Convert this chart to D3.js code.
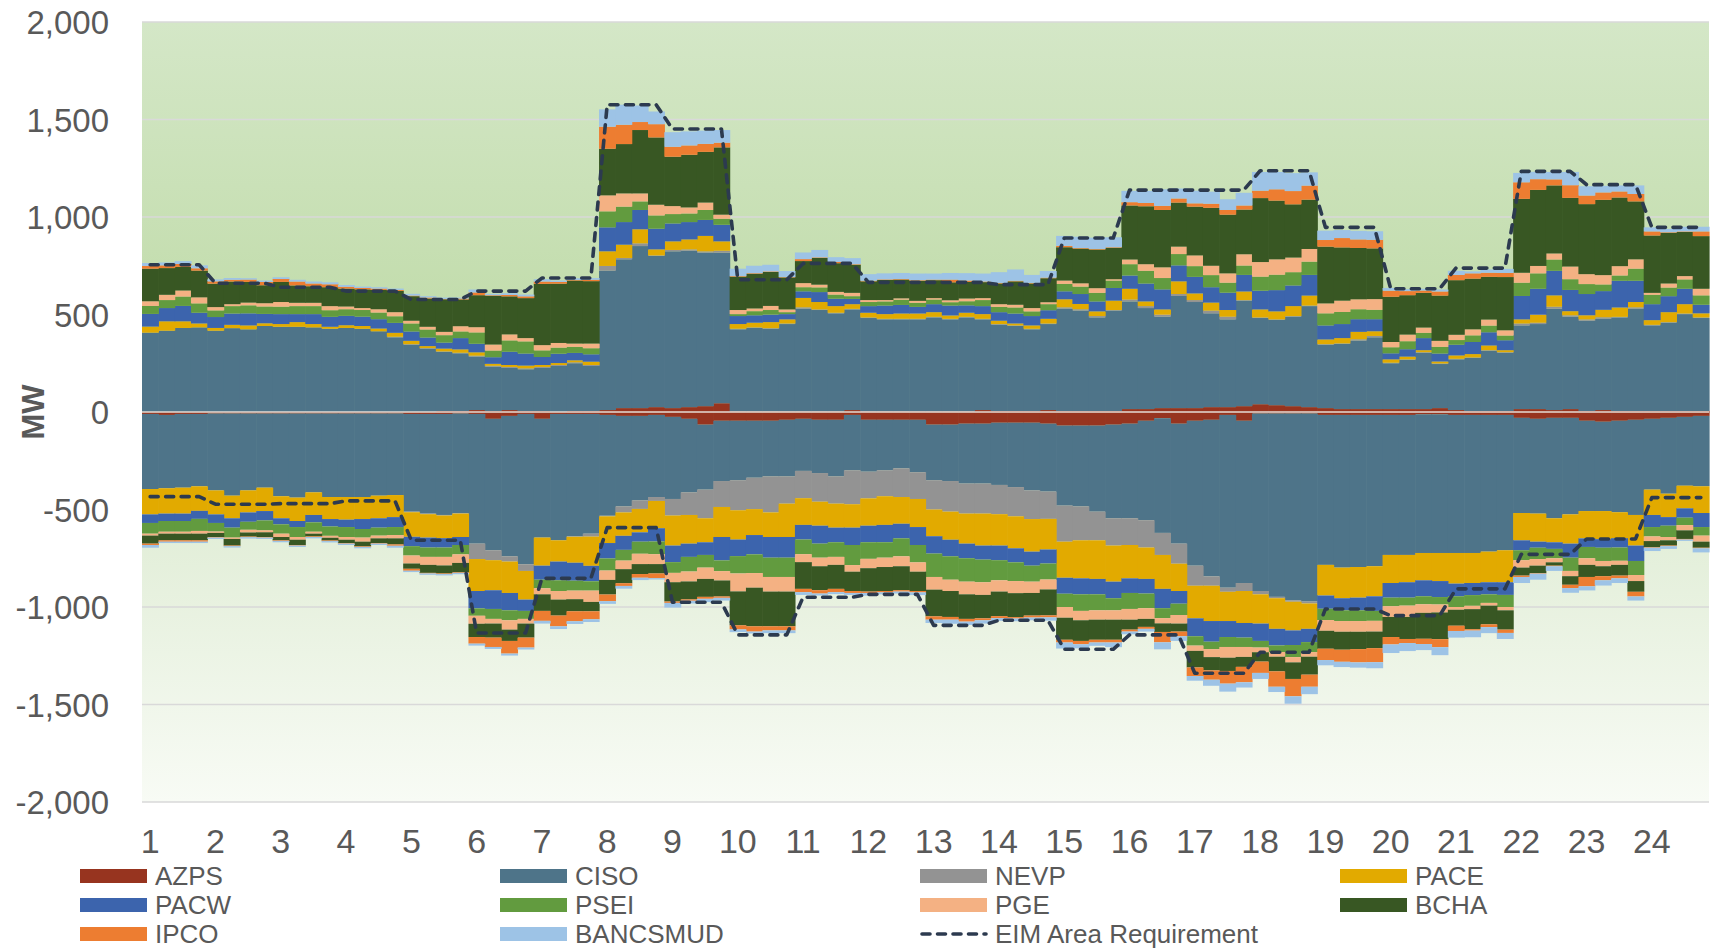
<!DOCTYPE html>
<html><head><meta charset="utf-8">
<script src="https://cdn.jsdelivr.net/npm/d3@7"></script>
<style>
html,body{margin:0;padding:0;background:#fff;}
svg{display:block;font-family:"Liberation Sans",Arial,sans-serif;}
</style></head>
<body><svg id="chart" width="1712" height="948"></svg>
<script>
// ---------------- DATA (MW, 15-minute intervals, 4 per hour) ----------------
const hourLabels = d3.range(1, 25).map(String);
const seriesNames = ["AZPS","CISO","NEVP","PACE","PACW","PSEI","PGE","BCHA","IPCO","BANCSMUD"];
const seriesColors = ["#97341f","#4e7489","#939393","#e2aa00","#3c64ad","#629b3f","#f4b183","#385723","#ed7d31","#9dc3e6"];
const yTicks = [-2000,-1500,-1000,-500,0,500,1000,1500,2000];

// Upward flexibility (positive)
const AZPS_up = [0,0,0,0, 0,0,0,0, 0,0,0,0, 0,0,0,0, 0,0,5,5, 10,5,10,5, 5,0,5,5, 10,20,20,25, 20,25,30,45, 3,3,3,3, 3,3,3,10, 3,3,3,3, 3,3,3,10, 5,5,5,10, 5,5,5,5, 15,15,20,20, 20,25,25,30, 40,35,30,25, 20,15,15,15, 15,15,15,20, 10,5,5,5, 15,15,10,15, 5,10,5,5, 5,5,5,5];
const CISO_up = [407,417,431,434, 417,430,424,441, 437,437,434,427, 431,427,414,383, 345,325,303,296, 274,227,216,214, 221,236,245,231, 715,763,831,775, 804,802,787,772, 421,428,424,448, 527,520,503,516, 479,472,472,472, 482,472,482,465, 443,436,419,441, 525,515,480,515, 552,518,469,575, 544,481,450,541, 442,437,459,518, 325,334,351,368, 235,252,289,226, 260,272,309,299, 429,436,520,474, 463,469,480,525, 439,453,497,477];
const NEVP_up = [0,0,0,0, 0,0,0,0, 0,0,0,0, 0,0,0,3, 3,3,3,3, 5,5,5,5, 5,5,5,5, 24,7,14,3, 7,7,7,10, 3,3,3,3, 7,3,3,3, 3,3,3,3, 3,3,3,3, 3,3,3,3, 7,7,7,3, 10,10,10,10, 10,14,14,3, 3,3,3,3, 3,3,7,7, 3,3,3,3, 3,3,3,3, 10,7,10,7, 7,7,3,7, 3,3,3,3];
const PACE_up = [31,48,34,20, 14,17,20,14, 14,24,17,10, 14,14,14,20, 17,10,14,17, 17,10,10,14, 10,10,10,17, 75,68,72,31, 44,51,79,48, 24,24,31,21, 48,38,34,24, 24,24,27,27, 24,17,21,24, 17,10,17,24, 41,27,24,48, 55,24,27,65, 34,41,34,44, 41,41,51,51, 24,27,38,24, 17,14,10,10, 17,17,24,10, 21,41,58,21, 21,38,48,27, 24,51,48,21];
const PACW_up = [65,68,79,55, 56,58,62,48, 51,41,51,51, 48,48,48,51, 48,44,31,58, 44,34,68,62, 41,48,38,38, 123,116,99,106, 92,89,82,85, 41,38,38,27, 34,51,38,27, 34,44,44,34, 41,51,38,41, 44,51,48,44, 41,51,51,65, 68,92,103,82, 85,79,89,85, 96,109,106,106, 72,72,65,62, 31,38,62,41, 55,62,68,51, 120,133,126,109, 109,96,137,109, 82,82,79,44];
const PSEI_up = [41,41,48,48, 34,38,41,38, 38,41,41,34, 34,34,34,34, 41,41,38,34, 58,34,58,62, 34,31,31,31, 82,79,44,68, 48,44,51,31, 10,21,24,10, 21,24,21,14, 21,21,27,21, 24,17,21,31, 27,31,24,31, 38,38,44,38, 58,65,58,58, 55,62,51,48, 72,79,68,68, 62,62,51,48, 31,41,27,34, 24,34,34,24, 68,79,58,55, 51,34,27,62, 48,44,48,48];
const PGE_up  = [24,27,31,31, 17,10,14,17, 24,17,17,21, 14,10,17,21, 14,14,17,27, 27,31,31,17, 27,24,17,24, 82,68,41,55, 41,31,38,21, 21,14,21,14, 21,14,14,17, 10,7,7,10, 7,10,14,10, 14,14,17,10, 17,17,24,7, 24,34,55,38, 55,48,48,58, 75,79,75,65, 51,58,51,55, 27,34,27,31, 27,31,31,27, 51,38,31,65, 51,48,48,48, 10,21,17,34];
const BCHA_up = [167,137,121,137, 120,116,106,92, 103,89,85,97, 92,96,99,109, 126,145,167,137, 164,250,195,205, 314,304,323,320, 239,253,325,345, 253,270,260,345, 171,178,174,164, 113,137,147,144, 96,103,96,103, 92,92,85,82, 106,120,126,123, 171,178,198,161, 277,297,294,226, 250,297,301,229, 328,301,273,253, 291,273,263,260, 232,202,178,232, 280,260,219,273, 379,390,349,352, 359,386,352,297, 294,260,226,270];
const IPCO_up = [14,14,15,12, 12,9,12,17, 15,20,14,15, 9,7,7,5, 3,5,2,5, 14,3,7,9, 12,9,3,7, 113,99,41,68, 51,48,41,24, 3,3,3,2, 10,3,7,3, 3,3,3,3, 3,14,7,3, 3,3,3,3, 7,3,3,3, 17,17,21,21, 17,21,24,21, 38,58,68,72, 34,48,44,44, 31,21,12,21, 27,27,21,21, 85,55,31,65, 44,38,31,38, 21,3,3,24];
const BANCSMUD_up = [15,15,15,15, 10,9,7,7, 9,9,10,10, 9,7,7,7, 9,7,7,5, 15,7,9,9, 12,7,9,9, 89,103,85,65, 75,72,68,65, 38,38,34,31, 34,38,24,31, 34,31,31,34, 31,34,38,41, 55,58,41,34, 51,58,58,51, 58,62,85,51, 65,62,55,65, 96,89,92,68, 48,41,44,44, 14,10,9,10, 21,10,17,21, 48,38,38,68, 48,34,31,44, 21,17,24,24];

// Downward flexibility (negative)
const AZPS_dn = [-10,-15,-10,-10, -8,-8,-8,-8, -8,-8,-8,-8, -8,-8,-8,-8, -10,-10,-10,-8, -10,-35,-20,-10, -35,-10,-10,-10, -15,-20,-20,-15, -25,-35,-65,-45, -45,-45,-45,-40, -35,-40,-40,-15, -40,-40,-40,-40, -65,-65,-60,-60, -55,-55,-55,-60, -70,-70,-70,-65, -60,-45,-32,-60, -45,-40,-15,-45, -8,-8,-8,-8, -15,-15,-15,-15, -15,-15,-12,-12, -15,-15,-15,-15, -30,-35,-30,-30, -45,-50,-45,-40, -35,-30,-25,-20];
const CISO_dn = [-385,-376,-378,-371, -394,-421,-394,-380, -424,-431,-404,-428, -428,-428,-421,-418, -501,-511,-518,-510, -665,-674,-720,-771, -609,-648,-627,-614, -517,-464,-433,-421, -421,-377,-333,-309, -305,-292,-285,-290, -267,-273,-290,-284, -266,-259,-249,-269, -285,-289,-307,-307, -319,-330,-347,-348, -410,-414,-441,-480, -485,-510,-588,-615, -743,-803,-886,-832, -910,-940,-958,-964, -769,-783,-780,-776, -718,-718,-711,-711, -708,-708,-701,-694, -488,-486,-515,-495, -463,-458,-469,-488, -363,-389,-353,-361];
const NEVP_dn = [0,0,0,0, 0,0,0,0, 0,0,0,0, 0,0,0,0, -3,-3,-3,-3, -79,-51,-27,-34, 0,0,-3,-15, -3,-31,-44,-20, -85,-116,-147,-133, -154,-161,-185,-140, -140,-147,-140,-174, -137,-133,-147,-137, -150,-157,-154,-154, -150,-150,-147,-140, -185,-174,-147,-140, -137,-140,-113,-103, -103,-48,-21,-41, -17,-7,-7,-10, 0,0,0,0, 0,0,0,0, 0,0,0,0, 0,0,0,0, 0,0,0,0, 0,0,0,0];
const PACE_dn = [-130,-130,-133,-126, -123,-116,-113,-120, -113,-120,-116,-113, -116,-113,-116,-113, -126,-120,-116,-120, -164,-154,-161,-147, -144,-109,-133,-150, -137,-120,-120,-140, -154,-147,-123,-154, -150,-133,-126,-171, -137,-123,-123,-120, -140,-147,-137,-144, -137,-144,-154,-164, -161,-164,-167,-157, -185,-195,-198,-185, -171,-161,-174,-140, -167,-181,-150,-164, -150,-157,-147,-130, -157,-157,-157,-154, -144,-140,-140,-144, -157,-154,-157,-164, -140,-144,-123,-150, -140,-144,-133,-157, -130,-120,-116,-137];
const PACW_dn = [-44,-38,-38,-41, -44,-48,-48,-48, -31,-31,-38,-38, -38,-51,-48,-51, -48,-51,-48,-41, -89,-96,-89,-58, -72,-96,-92,-79, -79,-72,-48,-68, -85,-68,-65,-120, -85,-99,-106,-106, -75,-92,-75,-89, -85,-89,-75,-92, -89,-85,-75,-72, -75,-72,-72,-72, -82,-82,-79,-85, -75,-75,-99,-65, -92,-106,-82,-75, -89,-85,-75,-68, -68,-62,-65,-75, -75,-79,-82,-82, -65,-62,-62,-65, -51,-31,-34,-72, -44,-44,-48,-79, -62,-44,-48,-72];
const PSEI_dn = [-55,-55,-55,-62, -44,-51,-41,-51, -48,-51,-48,-48, -51,-44,-41,-41, -48,-48,-48,-48, -38,-51,-51,-41, -44,-55,-51,-48, -62,-55,-62,-65, -55,-75,-65,-55, -89,-96,-99,-99, -75,-72,-75,-103, -85,-79,-92,-89, -120,-120,-120,-116, -103,-96,-82,-82, -68,-85,-82,-62, -82,-75,-51,-58, -48,-38,-51,-48, -34,-34,-62,-51, -58,-55,-55,-51, -44,-41,-41,-38, -55,-55,-44,-62, -51,-58,-48,-68, -58,-68,-68,-72, -48,-58,-38,-44];
const PGE_dn  = [-10,-10,-10,-14, -7,-7,-14,-10, -17,-14,-10,-10, -14,-21,-14,-17, -41,-41,-44,-44, -41,-24,-48,-24, -31,-44,-44,-58, -48,-44,-53,-51, -48,-51,-58,-48, -92,-75,-75,-75, -41,-44,-41,-34, -48,-48,-51,-48, -65,-58,-65,-65, -58,-62,-58,-51, -55,-48,-48,-48, -55,-55,-27,-44, -27,-41,-55,-51, -24,-24,-27,-24, -55,-55,-55,-55, -55,-58,-44,-41, -14,-17,-14,-17, -38,-34,-21,-27, -34,-27,-21,-31, -24,-17,-27,-31];
const BCHA_dn = [-41,-34,-34,-34, -21,-34,-21,-24, -17,-27,-14,-14, -17,-24,-24,-31, -27,-41,-41,-48, -68,-72,-58,-72, -85,-82,-62,-48, -75,-72,-51,-48, -99,-92,-92,-82, -174,-198,-178,-178, -137,-123,-123,-99, -120,-123,-123,-99, -137,-133,-126,-120, -126,-123,-116,-133, -113,-106,-103,-103, -51,-41,-44,-41, -85,-68,-68,-51, -48,-75,-85,-92, -92,-92,-89,-85, -103,-113,-133,-137, -82,-103,-96,-99, -41,-38,-17,-44, -62,-51,-55,-55, -31,-27,-44,-31];
const IPCO_dn = [-7,-7,-7,-7, -3,-3,-3,-3, -3,-3,-3,-3, -3,-3,-3,-7, -10,-3,-3,-3, -34,-48,-65,-51, -51,-55,-51,-41, -34,-14,-19,-24, -7,-7,-10,-7, -21,-27,-21,-21, -17,-17,-17,-10, -7,-7,-7,-7, -17,-14,-14,-10, -10,-7,-10,-10, -14,-17,-14,-14, -10,-10,-53,-24, -44,-48,-65,-79, -58,-79,-89,-62, -58,-62,-68,-72, -38,-21,-27,-41, -27,-7,-14,-17, -7,-3,-3,-17, -48,-21,-14,-24, -3,-3,-3,-3];
const BANCSMUD_dn = [-14,-7,-7,-7, -7,-7,-7,-7, -7,-7,-7,-7, -7,-7,-7,-10, -7,-7,-7,-7, -10,-10,-10,-10, -14,-14,-14,-14, -14,-14,-12,-7, -24,-14,-17,-14, -14,-10,-14,-14, -14,-10,-10,-10, -14,-10,-10,-14, -17,-21,-17,-17, -14,-14,-14,-17, -31,-21,-17,-24, -14,-14,-36,-24, -24,-31,-41,-27, -31,-27,-38,-38, -27,-27,-27,-31, -44,-41,-31,-41, -34,-34,-31,-31, -31,-31,-24,-24, -21,-27,-24,-21, -17,-14,-7,-21];

// EIM Area Requirement (hourly)
const reqUp = [755,660,640,620,577,620,687,1576,1451,678,762,665,665,653,892,1138,1138,1237,947,632,738,1234,1166,947];
const reqDn = [-434,-473,-470,-456,-658,-1133,-853,-593,-976,-1143,-950,-935,-1094,-1068,-1217,-1143,-1340,-1232,-1010,-1044,-907,-730,-651,-439];

// ---------------- BUILD ----------------
const upArrays = [AZPS_up,CISO_up,NEVP_up,PACE_up,PACW_up,PSEI_up,PGE_up,BCHA_up,IPCO_up,BANCSMUD_up];
const dnArrays = [AZPS_dn,CISO_dn,NEVP_dn,PACE_dn,PACW_dn,PSEI_dn,PGE_dn,BCHA_dn,IPCO_dn,BANCSMUD_dn];
const N = CISO_up.length;
const rowsUp = d3.range(N).map(i => { const r = {}; seriesNames.forEach((k,j) => r[k] = upArrays[j][i]); return r; });
const rowsDn = d3.range(N).map(i => { const r = {}; seriesNames.forEach((k,j) => r[k] = dnArrays[j][i]); return r; });

const plot = {left: 142, right: 1709, top: 22, bottom: 802};
const svg = d3.select("#chart");
const x = d3.scaleBand().domain(d3.range(N)).range([plot.left, plot.right]).padding(0);
const y = d3.scaleLinear().domain([-2000, 2000]).range([plot.bottom, plot.top]);
const color = d3.scaleOrdinal().domain(seriesNames).range(seriesColors);
const textColor = "#595959";

// background gradient
const defs = svg.append("defs");
const grad = defs.append("linearGradient").attr("id","bg").attr("x1",0).attr("y1",0).attr("x2",0).attr("y2",1);
[["0%","#d4e7c7"],["46%","#bedaa6"],["54%","#dbeacf"],["100%","#f8fbf5"]].forEach(s =>
  grad.append("stop").attr("offset", s[0]).attr("stop-color", s[1]));
svg.append("rect").attr("x", plot.left).attr("y", plot.top)
  .attr("width", plot.right - plot.left).attr("height", plot.bottom - plot.top).attr("fill","url(#bg)");

// gridlines
svg.append("g").selectAll("line").data(yTicks).join("line")
  .attr("x1", plot.left).attr("x2", plot.right)
  .attr("y1", d => y(d)).attr("y2", d => y(d))
  .attr("stroke","#d9d9d9").attr("stroke-width",1.5);

// stacks
const stackUp = d3.stack().keys(seriesNames).offset(d3.stackOffsetDiverging)(rowsUp);
const stackDn = d3.stack().keys(seriesNames).offset(d3.stackOffsetDiverging)(rowsDn);
const bw = x.bandwidth();
function drawStack(stack, cls) {
  svg.append("g").attr("class", cls).selectAll("g").data(stack).join("g")
    .attr("fill", d => color(d.key))
    .selectAll("rect").data(d => d.map((v,i) => ({v, i}))).join("rect")
    .attr("x", d => x(d.i))
    .attr("width", bw + 0.6)
    .attr("y", d => y(Math.max(d.v[0], d.v[1])))
    .attr("height", d => Math.abs(y(d.v[0]) - y(d.v[1])));
}
drawStack(stackUp, "up");
drawStack(stackDn, "dn");

// zero line
svg.append("line").attr("x1", plot.left).attr("x2", plot.right)
  .attr("y1", y(0)).attr("y2", y(0)).attr("stroke","#e4dcd6").attr("stroke-width",1.6);

// requirement lines
const line = d3.line().x(d => d[0]).y(d => d[1]);
[reqUp, reqDn].forEach(req => {
  const pts = d3.range(N).map(i => [x(i) + bw/2, y(req[Math.floor(i/4)])]);
  svg.append("path").attr("d", line(pts)).attr("fill","none")
    .attr("stroke","#2c3a4f").attr("stroke-width",3.6)
    .attr("stroke-dasharray","8,7.5").attr("stroke-linecap","round").attr("stroke-linejoin","round");
});

// y axis labels
const yAxis = d3.axisLeft(y).tickValues(yTicks).tickSize(0).tickPadding(0)
  .tickFormat(d => d3.format(",")(d).replace("\u2212","-"));
const gy = svg.append("g").attr("transform", `translate(${plot.left - 33},0)`).call(yAxis);
gy.select(".domain").remove();
gy.selectAll("text").attr("fill", textColor).style("font-size","33px")
  .style("font-family",'"Liberation Sans",Arial,sans-serif').attr("dy","0.35em");

// x axis labels
const xAxis = d3.axisBottom(x).tickValues(d3.range(0, N, 4)).tickSize(0).tickPadding(0)
  .tickFormat(i => hourLabels[i/4]);
const gx = svg.append("g").attr("transform", `translate(0,${plot.bottom})`).call(xAxis);
gx.select(".domain").remove();
gx.selectAll("text").attr("fill", textColor).style("font-size","34px")
  .style("font-family",'"Liberation Sans",Arial,sans-serif').attr("dy","0").attr("y", 51);

// y title
svg.append("text").attr("transform", `translate(44,${y(0)}) rotate(-90)`)
  .attr("text-anchor","middle").attr("fill", textColor)
  .style("font-size","31px").style("font-weight","bold").text("MW");

// legend
const legendItems = seriesNames.map((k,i) => ({name:k, color: seriesColors[i], type:"rect"}))
  .concat([{name:"EIM Area Requirement", color:"#2c3a4f", type:"line"}]);
const colX = [80, 500, 920, 1340];
const rowY = [876, 905, 934];
const lg = svg.append("g");
legendItems.forEach((it, i) => {
  const cx = colX[i % 4], cy = rowY[Math.floor(i / 4)];
  if (it.type === "rect") {
    lg.append("rect").attr("x", cx).attr("y", cy - 7).attr("width", 67).attr("height", 14).attr("fill", it.color);
  } else {
    lg.append("line").attr("x1", cx + 2).attr("x2", cx + 66).attr("y1", cy).attr("y2", cy)
      .attr("stroke", it.color).attr("stroke-width", 3.6).attr("stroke-dasharray","8,7.5").attr("stroke-linecap","round");
  }
  lg.append("text").attr("x", cx + 75).attr("y", cy).attr("dy","0.35em")
    .attr("fill", textColor).style("font-size","26px").text(it.name);
});
</script>
</body></html>
